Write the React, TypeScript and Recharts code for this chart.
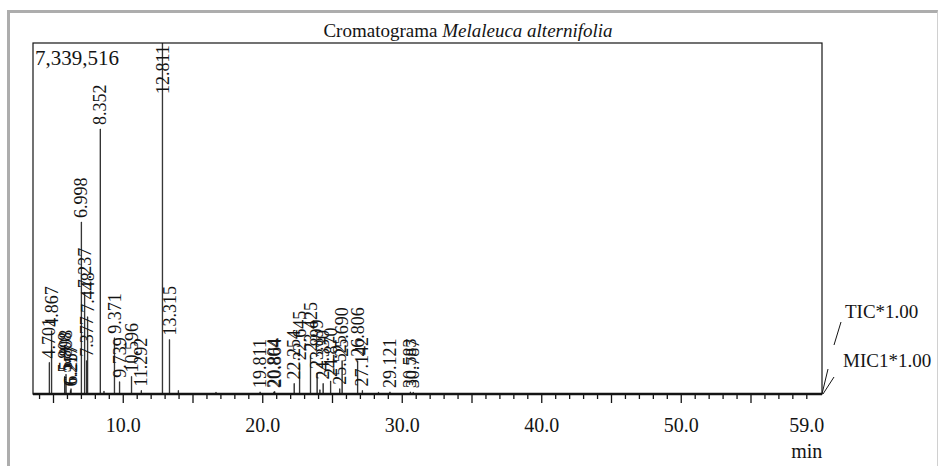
import { ComposedChart, Bar, XAxis, YAxis, LabelList } from "recharts";

// retention times (min) and relative intensity (% of 7,339,516)
const labeledTimes = [
  4.701, 4.867, 5.808, 5.898, 6.217, 6.257, 6.998, 7.237, 7.377, 7.448, 8.352, 9.371, 9.739, 10.596, 11.292,
  12.811, 13.315, 19.811, 20.804, 20.864, 22.254, 22.645, 23.425, 23.899, 24.33, 24.87, 25.525, 25.69, 26.806,
  27.142, 29.121, 30.583, 30.787,
];
const labeledHeights = [
  9, 18, 5, 5.6, 1, 1.5, 49, 29, 9.5, 22, 75.5, 16, 3.5, 5, 1,
  100, 15.5, 0.6, 0.6, 0.7, 3, 8.5, 11, 6, 3, 3.7, 1.5, 9.5, 9.5,
  1, 0.6, 0.6, 0.5,
];
const minorTimes = [8.62, 13.95, 16.65, 24.1, 28.3];
const minorHeights = [0.8, 1.0, 0.5, 1.2, 0.5];

const tickValues = [4, 5, 6, 7, 8, 9, 10, 11, 12, 13, 14, 15, 16, 17, 18, 19, 20, 21, 22, 23, 24, 25, 26, 27, 28, 29, 30, 31, 32, 33, 34, 35, 36, 37, 38, 39, 40, 41, 42, 43, 44, 45, 46, 47, 48, 49, 50, 51, 52, 53, 54, 55, 56, 57, 58, 59];
const tickLabels = [10, 20, 30, 40, 50, 59];

const peaks = [
  ...labeledTimes.map((t, i) => ({ time: t, intensity: labeledHeights[i], tag: t.toFixed(3) })),
  ...minorTimes.map((t, i) => ({ time: t, intensity: minorHeights[i], tag: "" })),
].sort((a, b) => a.time - b.time);

const FONT = '"Liberation Serif", "DejaVu Serif", serif';
const INK = "#141414";
const PLOT_TOP = 43;
const PLOT_LEFT = 33;
const PLOT_RIGHT = 822;
const PLOT_BOTTOM = 394;

function TimeTick(props: any) {
  const { x, y, payload } = props;
  const v = payload.value;
  const len = v % 5 === 0 ? 9 : 5;
  return (
    <g>
      <line x1={x} x2={x} y1={y} y2={y + len} stroke={INK} strokeWidth={1.3} />
      {tickLabels.includes(v) && (
        <text x={x} y={y + 38} textAnchor="middle" style={{ fontFamily: FONT, fontSize: 20 }} fill={INK}>
          {v.toFixed(1)}
        </text>
      )}
      {v === 59 && (
        <text x={x} y={y + 64} textAnchor="middle" style={{ fontFamily: FONT, fontSize: 20 }} fill={INK}>
          min
        </text>
      )}
    </g>
  );
}

function PeakLabel(props: any) {
  const { x, y, width, value } = props;
  if (!value) return null;
  const cx = x + width / 2;
  const ty = Math.max(y - 4, PLOT_TOP + 51);
  return (
    <text
      x={cx}
      y={ty}
      transform={`rotate(-90 ${cx} ${ty})`}
      dy="0.34em"
      textAnchor="start"
      style={{ fontFamily: FONT, fontSize: 18 }}
      fill={INK}
    >
      {value}
    </text>
  );
}

export default function App() {
  return (
    <div style={{ position: "absolute", left: 0, top: 0, width: 939, height: 466, background: "#fff" }}>
      <div
        style={{
          position: "absolute",
          left: 7,
          top: 10,
          width: 931,
          height: 470,
          boxSizing: "border-box",
          borderLeft: "3px solid #adadad",
          borderTop: "3px solid #adadad",
          borderRight: "1px solid #d0d0d0",
        }}
      />
      <div style={{ position: "absolute", left: 0, top: 0 }}>
        <ComposedChart
          width={939}
          height={466}
          data={peaks}
          margin={{ top: PLOT_TOP, right: 939 - PLOT_RIGHT, bottom: 0, left: PLOT_LEFT }}
        >
          <XAxis
            dataKey="time"
            type="number"
            domain={[3.53, 60.09]}
            allowDataOverflow
            ticks={tickValues}
            interval={0}
            tickSize={0}
            tickMargin={0}
            tick={<TimeTick />}
            height={466 - PLOT_BOTTOM}
            axisLine={{ stroke: INK, strokeWidth: 2.6 }}
          />
          <YAxis domain={[0, 100]} allowDataOverflow hide />
          <Bar dataKey="intensity" fill={INK} stroke={INK} strokeWidth={0.6} barSize={1.6} isAnimationActive={false}>
            <LabelList dataKey="tag" content={<PeakLabel />} />
          </Bar>
        </ComposedChart>
      </div>
      <svg width={939} height={466} style={{ position: "absolute", left: 0, top: 0, pointerEvents: "none" }}>
        <rect
          x={PLOT_LEFT}
          y={PLOT_TOP}
          width={PLOT_RIGHT - PLOT_LEFT}
          height={PLOT_BOTTOM - PLOT_TOP}
          fill="none"
          stroke={INK}
          strokeWidth={1.2}
        />
        <text x={468} y={37} textAnchor="middle" style={{ fontFamily: FONT, fontSize: 19 }} fill={INK}>
          Cromatograma <tspan fontStyle="italic">Melaleuca alternifolia</tspan>
        </text>
        <text x={35} y={65} style={{ fontFamily: FONT, fontSize: 21 }} fill={INK}>
          7,339,516
        </text>
        <text x={845} y={318} style={{ fontFamily: FONT, fontSize: 19 }} fill={INK}>
          TIC*1.00
        </text>
        <text x={843} y={367} style={{ fontFamily: FONT, fontSize: 19 }} fill={INK}>
          MIC1*1.00
        </text>
        <line x1={841} y1={322} x2={834} y2={345} stroke={INK} strokeWidth={1} />
        <line x1={828} y1={369} x2={822} y2={394} stroke={INK} strokeWidth={1} />
        <line x1={834} y1={377} x2={823} y2={394} stroke={INK} strokeWidth={1} />
      </svg>
    </div>
  );
}
